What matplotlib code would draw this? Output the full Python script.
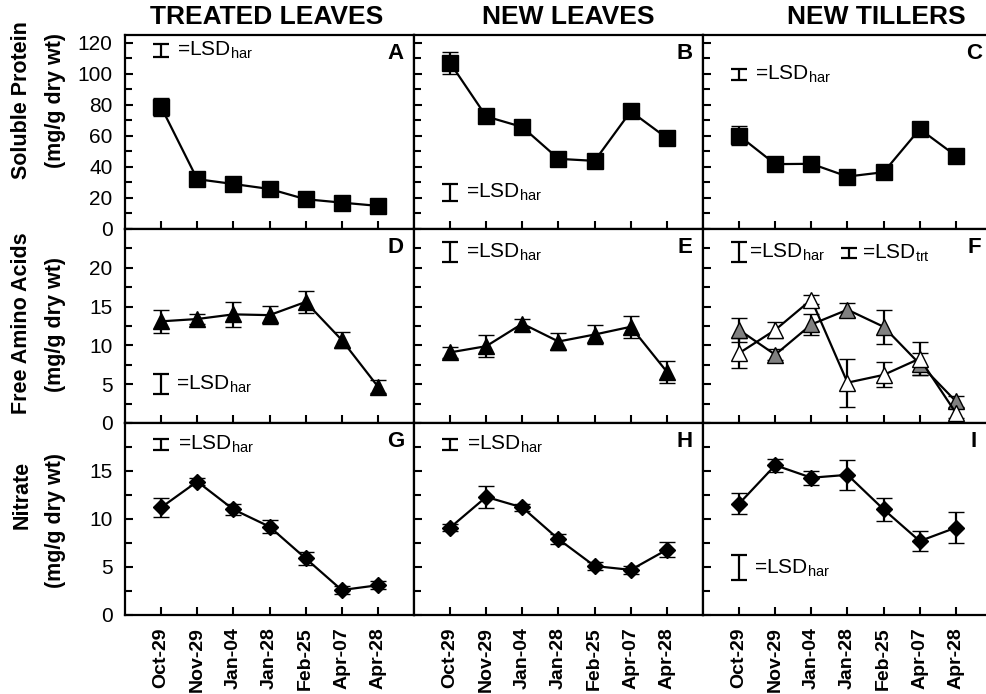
import matplotlib
matplotlib.use("Agg")
import matplotlib.pyplot as plt
from matplotlib.ticker import MultipleLocator, FixedLocator

plt.rcParams['font.family'] = ['Liberation Sans', 'DejaVu Sans']
plt.rcParams['mathtext.fontset'] = 'custom'
plt.rcParams['mathtext.rm'] = 'Liberation Sans'

dates = ["Oct-29", "Nov-29", "Jan-04", "Jan-28", "Feb-25", "Apr-07", "Apr-28"]
column_titles = ["TREATED LEAVES", "NEW LEAVES", "NEW TILLERS"]
row_titles = [("Soluble Protein", "(mg/g dry wt)"),
              ("Free Amino Acids", "(mg/g dry wt)"),
              ("Nitrate", "(mg/g dry wt)")]
panel_letters = ["A", "B", "C", "D", "E", "F", "G", "H", "I"]

# Soluble protein (mg/g dry wt) and standard errors
protein_treated = [78.6, 32.1, 29.0, 25.8, 19.2, 17.0, 14.9]
protein_treated_se = [6.0, 1.5, 1.5, 1.5, 1.5, 1.5, 1.5]
protein_newleaf = [107.0, 72.5, 65.7, 45.2, 43.9, 75.8, 58.6]
protein_newleaf_se = [7.0, 1.5, 1.5, 1.5, 1.5, 1.5, 1.5]
protein_tiller = [60.1, 41.8, 42.0, 33.8, 36.6, 64.4, 47.2]
protein_tiller_se = [6.0, 1.5, 1.5, 1.5, 1.5, 1.5, 1.5]

# Free amino acids (mg/g dry wt)
amino_treated = [13.1, 13.4, 14.0, 13.9, 15.6, 10.7, 4.7]
amino_treated_se = [1.5, 0.6, 1.6, 1.2, 1.4, 1.0, 0.8]
amino_newleaf = [9.1, 9.9, 12.8, 10.5, 11.4, 12.4, 6.6]
amino_newleaf_se = [0.7, 1.45, 0.6, 1.1, 1.2, 1.4, 1.4]
amino_tiller_gray = [12.0, 8.8, 12.7, 14.6, 12.4, 7.6, 2.8]
amino_tiller_gray_se = [1.5, 0.7, 1.3, 0.9, 2.2, 1.4, 0.7]
amino_tiller_white = [9.0, 12.0, 15.9, 5.2, 6.2, 8.3, 1.3]
amino_tiller_white_se = [1.9, 1.0, 0.6, 3.1, 1.6, 2.1, 0.6]

# Nitrate (mg/g dry wt)
nitrate_treated = [11.2, 13.9, 11.0, 9.2, 5.9, 2.6, 3.1]
nitrate_treated_se = [1.0, 0.4, 0.6, 0.7, 0.65, 0.4, 0.4]
nitrate_newleaf = [9.1, 12.3, 11.2, 7.9, 5.1, 4.7, 6.8]
nitrate_newleaf_se = [0.4, 1.15, 0.4, 0.5, 0.4, 0.4, 0.8]
nitrate_tiller = [11.6, 15.6, 14.3, 14.6, 11.0, 7.7, 9.1]
nitrate_tiller_se = [1.1, 0.7, 0.75, 1.55, 1.2, 1.0, 1.65]

# LSD values for harvest (har) and treatment (trt)
lsd_har = [8.6, 10.7, 7.4, 2.6, 2.6, 2.6, 1.15, 1.15, 2.6]
lsd_trt_f = 1.3

# Placement of the LSD keys: (bar x, bar y centre, text x)
lsd_har_pos = [(0, 115.0, 0.45), (0, 23.7, 0.45), (0, 99.5, 0.45),
               (0, 5.0, 0.40), (0, 22.0, 0.45), (0, 22.0, 0.28),
               (0, 17.75, 0.47), (0, 17.75, 0.47), (0, 4.9, 0.40)]
lsd_trt_pos = (3.05, 21.9, 3.40)

series = [
    [(protein_treated, protein_treated_se, 's', 'black')],
    [(protein_newleaf, protein_newleaf_se, 's', 'black')],
    [(protein_tiller, protein_tiller_se, 's', 'black')],
    [(amino_treated, amino_treated_se, '^', 'black')],
    [(amino_newleaf, amino_newleaf_se, '^', 'black')],
    [(amino_tiller_gray, amino_tiller_gray_se, '^', '#808080'),
     (amino_tiller_white, amino_tiller_white_se, '^', 'white')],
    [(nitrate_treated, nitrate_treated_se, 'D', 'black')],
    [(nitrate_newleaf, nitrate_newleaf_se, 'D', 'black')],
    [(nitrate_tiller, nitrate_tiller_se, 'D', 'black')],
]

row_limits = [(0, 125), (0, 25), (0, 20)]
row_major = [[0, 20, 40, 60, 80, 100, 120], [0, 5, 10, 15, 20], [0, 5, 10, 15]]
row_minor = [10, 2.5, 2.5]
marker_sizes = {'s': 11, '^': 11.5, 'D': 8}

W, H = 987, 694
fig = plt.figure(figsize=(W / 100, H / 100), dpi=100)

left_px, col_w = 125, 289
row_tops = [35, 229, 423]
row_bots = [229, 423, 615]

x = list(range(len(dates)))
axes = []
for r in range(3):
    for c in range(3):
        x0 = (left_px + c * col_w) / W
        y0 = (H - row_bots[r]) / H
        h = (row_bots[r] - row_tops[r]) / H
        ax = fig.add_axes([x0, y0, col_w / W, h])
        axes.append(ax)
        idx = r * 3 + c
        for vals, se, mk, fc in series[idx]:
            ax.errorbar(x, vals, yerr=se, color='black', lw=1.6,
                        elinewidth=1.6, capsize=5.5, capthick=1.6,
                        marker=mk, ms=marker_sizes[mk], mfc=fc,
                        mec='black', mew=1.0, zorder=3, clip_on=False)
        ax.set_xlim(-1, 7)
        ax.set_ylim(*row_limits[r])
        ax.yaxis.set_major_locator(FixedLocator(row_major[r]))
        ax.yaxis.set_minor_locator(MultipleLocator(row_minor[r]))
        ax.set_xticks(x)
        ax.tick_params(axis='both', which='major', direction='in',
                       length=6, width=1.5, labelsize=15, pad=9)
        ax.tick_params(axis='y', which='minor', direction='in',
                       length=5, width=1.5)
        ax.tick_params(axis='both', which='both', top=False, right=False)
        if c != 0:
            ax.tick_params(axis='y', labelleft=False)
        if r != 2:
            ax.tick_params(axis='x', labelbottom=False)
        else:
            ax.set_xticklabels(dates, rotation=90, fontsize=14,
                               fontweight='bold')
        for sp in ax.spines.values():
            sp.set_linewidth(1.6)

        # panel letter
        ax.text(6.5, 0.905, panel_letters[idx], transform=ax.get_xaxis_transform(),
                ha='center', va='center', fontsize=16, fontweight='bold')

        # LSD key
        bx, by, tx = lsd_har_pos[idx]
        ax.errorbar([bx], [by], yerr=lsd_har[idx] / 2, fmt='none',
                    ecolor='black', elinewidth=1.6, capsize=5.5,
                    capthick=1.6)
        ax.text(tx, by, '=LSD$_{\\mathregular{har}}$', ha='left',
                va='center', fontsize=15)
        if idx == 5:
            bx, by, tx = lsd_trt_pos
            ax.errorbar([bx], [by], yerr=lsd_trt_f / 2, fmt='none',
                        ecolor='black', elinewidth=1.6, capsize=5.5,
                        capthick=1.6)
            ax.text(tx, by, '=LSD$_{\\mathregular{trt}}$', ha='left',
                    va='center', fontsize=15)

# column titles
title_centres = [267, 568, 876]
for c, title in enumerate(column_titles):
    fig.text(title_centres[c] / W, 1 - 17 / H, title, ha='center',
             va='center', fontsize=19, fontweight='bold')

# row titles, one text per line
line_x = [22, 55]
line_centres = [(100, 100), (323, 325), (495, 520)]
for r, lines in enumerate(row_titles):
    for k, line in enumerate(lines):
        fig.text(line_x[k] / W, 1 - line_centres[r][k] / H, line,
                 rotation=90, ha='center', va='center', fontsize=15.5,
                 fontweight='bold')

fig.savefig("out.png", dpi=100)
